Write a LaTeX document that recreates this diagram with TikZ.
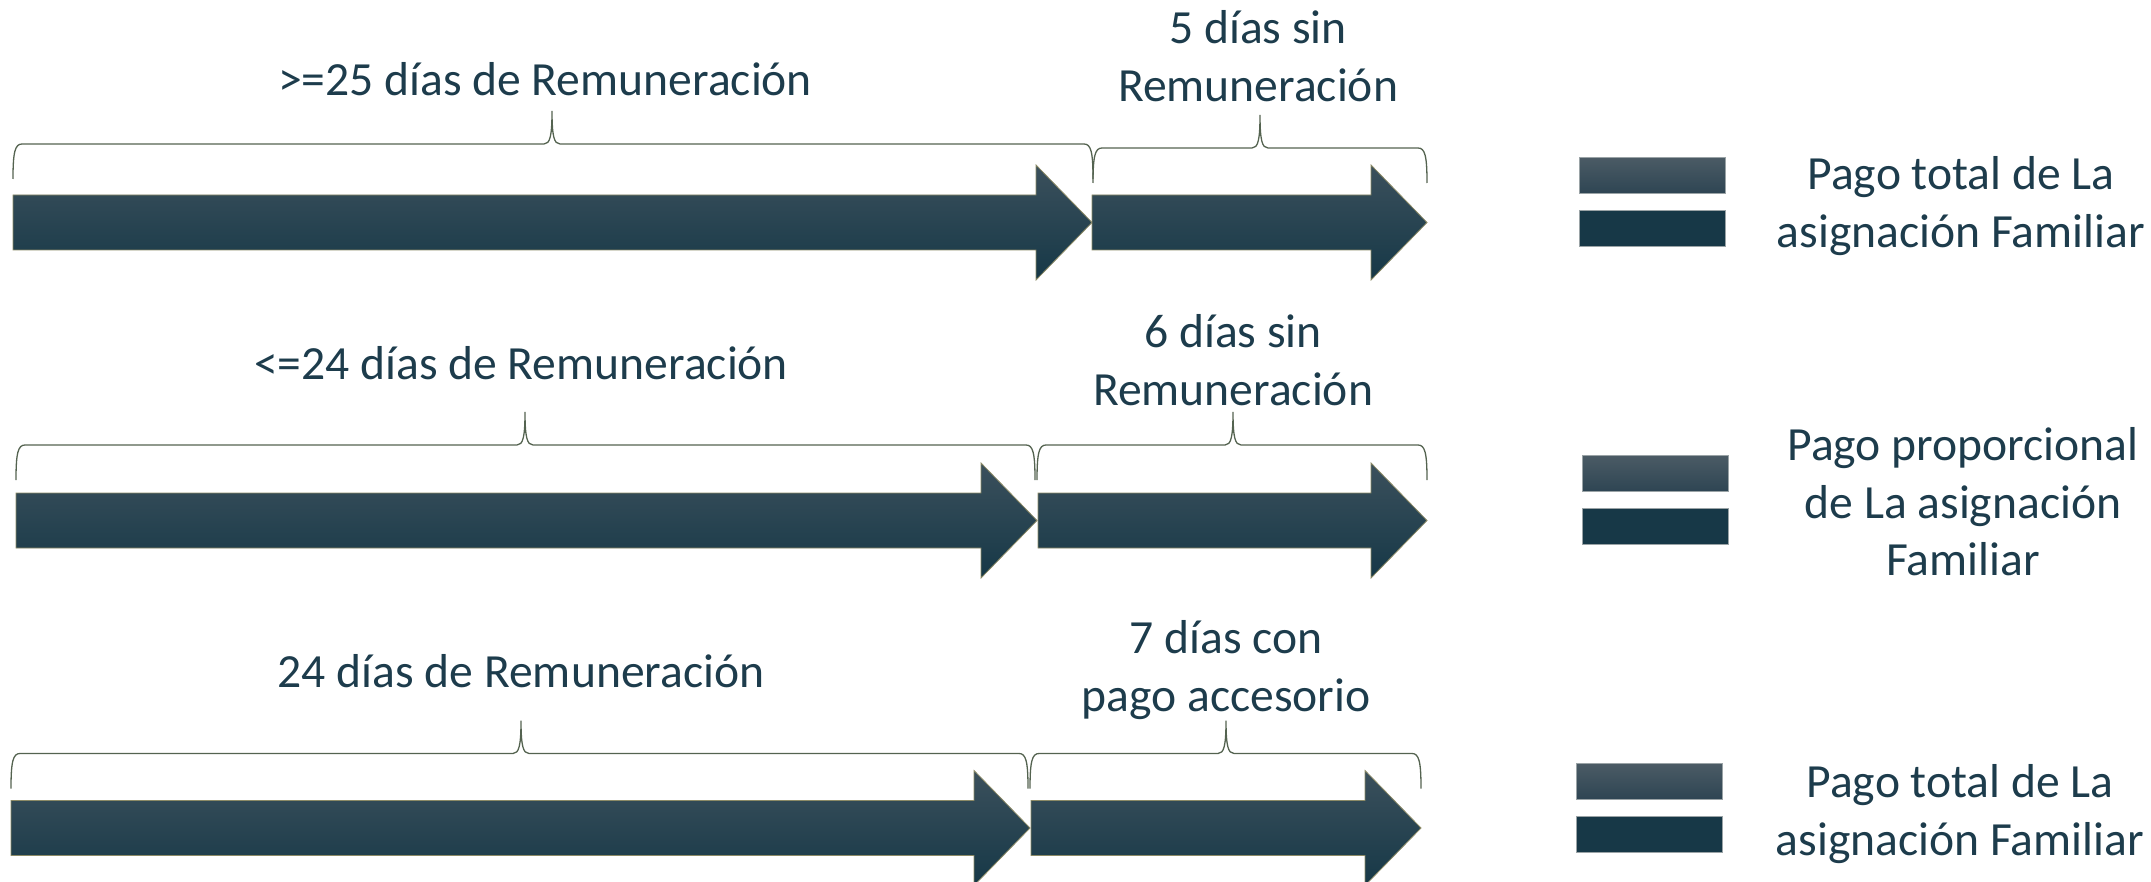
\documentclass[tikz,border=0pt]{standalone}
\usepackage[rgb]{xcolor}
\usepackage{fontspec}
\setmainfont{Carlito}
\usepackage{tikz}

\definecolor{tealtext}{HTML}{1D3C4C}
\definecolor{arrowtop}{HTML}{3B505C}
\definecolor{arrowmid}{HTML}{193A48}
\definecolor{arrowbot}{HTML}{163847}
\definecolor{arrowedge}{HTML}{8C8A66}
\definecolor{braceline}{HTML}{546350}
\definecolor{legtop}{HTML}{4B5B65}
\definecolor{legmid}{HTML}{2E4553}
\definecolor{legsolid}{HTML}{173847}
\definecolor{legedge}{HTML}{9AA3A6}

% arrow: start x, tip x, centre y
\newcommand{\dayarrow}[3]{%
\path[dayshade] (#1,#3-27.5) -- (#2-56,#3-27.5) -- (#2-56,#3-57.5) -- (#2,#3)
  -- (#2-56,#3+57.5) -- (#2-56,#3+27.5) -- (#1,#3+27.5) -- cycle;}

% brace: left x, right x, tip x, line y
\newcommand{\daybrace}[4]{%
\draw[bracestroke] (#1,#4+35) .. controls (#1,#4+8) and (#1+2,#4) .. (#1+9,#4)
  -- (#3-8,#4) .. controls (#3-2,#4) and (#3,#4-8) .. (#3,#4-33)
  .. controls (#3,#4-8) and (#3+2,#4) .. (#3+8,#4)
  -- (#2-9,#4) .. controls (#2-2,#4) and (#2,#4+8) .. (#2,#4+35);}

\begin{document}
\begin{tikzpicture}[x=0.5pt, y=-0.5pt,
  dayshade/.style={draw=arrowedge, line width=0.4pt, top color=arrowtop, middle color=arrowmid, bottom color=arrowbot},
  bracestroke/.style={draw=braceline, line width=0.65pt},
  daylabel/.style={text=tealtext, align=center, inner sep=0pt, font=\fontsize{23.8}{28.8}\selectfont},
  legtext/.style={daylabel},
  legbox/.style={draw=legedge, line width=0.4pt, minimum width=73pt, minimum height=18pt, inner sep=0pt, anchor=north west},
  legshade/.style={legbox, top color=legtop, bottom color=legmid},
  legfill/.style={legbox, fill=legsolid}]

\useasboundingbox (0,0) rectangle (2151,882);

% row 1 : >=25 days
\dayarrow{13}{1092}{222.5}
\dayarrow{1092}{1427}{222.5}
\daybrace{13}{1093}{552}{144}
\daybrace{1093}{1427}{1260}{148}
\node[daylabel] (payA) at (545,79) {>=25 días de Remuneración};
\node[daylabel] (unpaidA) at (1258,56) {5 días sin\\Remuneración};

% row 2 : <=24 days
\dayarrow{16}{1037}{520.5}
\dayarrow{1038}{1427}{520.5}
\daybrace{16}{1035}{525}{445}
\daybrace{1037}{1427}{1233}{445}
\node[daylabel] (payB) at (521,363) {<=24 días de Remuneración};
\node[daylabel] (unpaidB) at (1233,360) {6 días sin\\Remuneración};

% row 3 : 24 days + extra pay
\dayarrow{11}{1030}{828}
\dayarrow{1031}{1421}{828}
\daybrace{11}{1028}{521}{753.5}
\daybrace{1030}{1421}{1226}{753.5}
\node[daylabel] (payC) at (521,671) {24 días de Remuneración};
\node[daylabel] (extraC) at (1226,670) {7 días con\\pago accesorio};

% legend
\node[legshade] (legAtop) at (1579,157) {};
\node[legfill]  (legAbot) at (1579,210) {};
\node[legtext]  (legAtext) at (1961,206) {Pago total de La\\asignación Familiar};

\node[legshade] (legBtop) at (1582,455) {};
\node[legfill]  (legBbot) at (1582,508) {};
\node[legtext]  (legBtext) at (1963,502) {Pago proporcional\\de La asignación\\Familiar};

\node[legshade] (legCtop) at (1576,763) {};
\node[legfill]  (legCbot) at (1576,816) {};
\node[legtext]  (legCtext) at (1960,814) {Pago total de La\\asignación Familiar};

\end{tikzpicture}
\end{document}
